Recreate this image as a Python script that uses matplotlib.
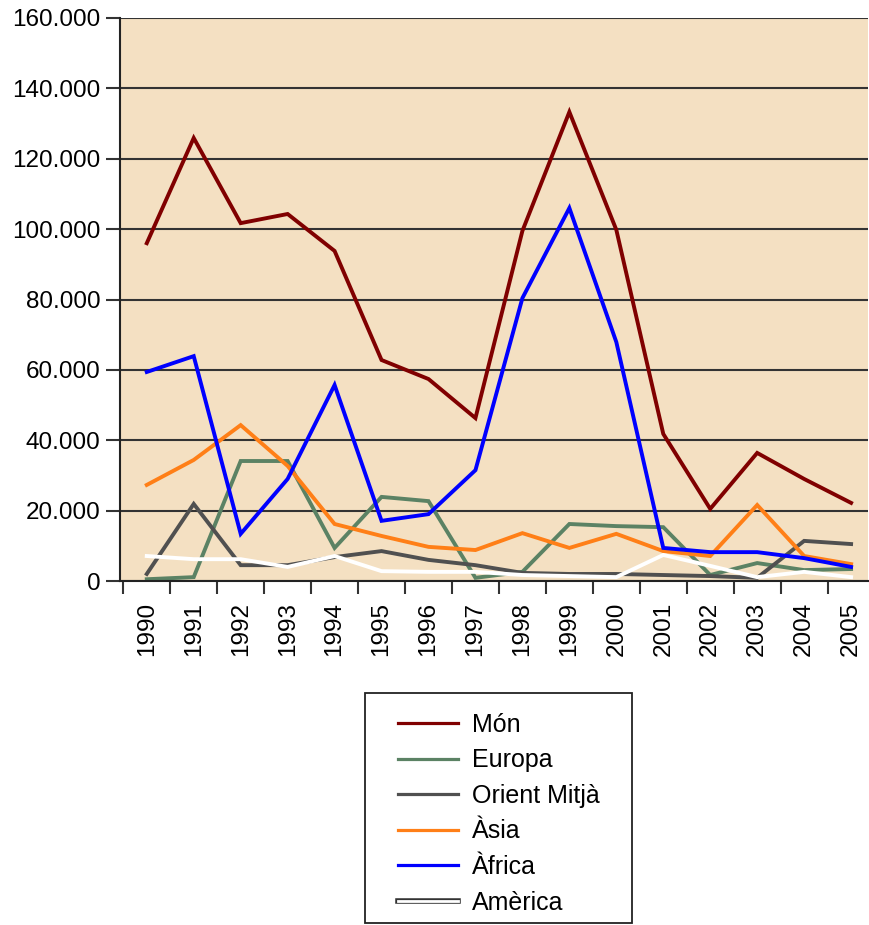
import matplotlib
matplotlib.use("Agg")
import matplotlib.pyplot as plt
from matplotlib.lines import Line2D
from matplotlib.patches import Rectangle
import matplotlib.patheffects as pe
from matplotlib.ticker import FuncFormatter, FixedLocator

plt.rcParams['font.family'] = ['Liberation Sans', 'DejaVu Sans']

years = ["1990", "1991", "1992", "1993", "1994", "1995", "1996", "1997",
         "1998", "1999", "2000", "2001", "2002", "2003", "2004", "2005"]

mon = [96000, 125900, 101700, 104300, 93800, 62800, 57400, 46300,
       99500, 133300, 99800, 41800, 20500, 36400, 29000, 22200]
europa = [500, 1100, 34100, 34100, 9400, 23900, 22700, 900,
          2600, 16200, 15600, 15300, 1700, 5100, 3100, 3400]
orient = [2000, 21900, 4500, 4500, 6800, 8500, 6000, 4500,
          2300, 2000, 2000, 1700, 1400, 900, 11400, 10500]
asia = [27300, 34400, 44300, 32700, 16200, 12800, 9700, 8800,
        13600, 9400, 13400, 8500, 7100, 21600, 7100, 4800]
africa = [59400, 63900, 13400, 29000, 55700, 17100, 19000, 31500,
          80400, 106000, 67900, 9400, 8200, 8200, 6500, 4000]
america = [7100, 6200, 6200, 4000, 7100, 2800, 2600, 2600,
           1700, 1400, 1100, 7400, 4300, 1100, 2600, 1100]

series = [("Món", mon, "#800000"),
          ("Europa", europa, "#5B8264"),
          ("Orient Mitjà", orient, "#505050"),
          ("Àsia", asia, "#FF7F17"),
          ("Àfrica", africa, "#0000FF"),
          ("Amèrica", america, "#FFFFFF")]

W, H = 869, 925
fig = plt.figure(figsize=(W/100, H/100), dpi=100)
ax = fig.add_axes([120/W, 1-581/H, (868-120)/W, (581-18)/H])
ax.set_facecolor("#F4E0C2")

x = list(range(len(years)))
for name, vals, col in series:
    ax.plot(x, vals, color=col, lw=2.8, solid_joinstyle='miter')

ax.set_xlim(-0.57, 15.36)
ax.set_ylim(0, 160000)
ax.set_yticks(range(0, 160001, 20000))
ax.yaxis.set_major_formatter(FuncFormatter(lambda v, p: f"{int(v):,}".replace(",", ".")))
ax.yaxis.grid(True, color="#333333", lw=1.5)
ax.set_axisbelow(True)

ax.set_xticks(x)
ax.set_xticklabels(years, rotation=90, fontsize=17.5)
ax.tick_params(axis='x', which='major', length=0, pad=15)
ax.xaxis.set_minor_locator(FixedLocator([i - 0.5 for i in range(len(years) + 1)]))
ax.tick_params(axis='x', which='minor', length=9, width=1.5, color="#333333")
ax.tick_params(axis='y', labelsize=17.5, length=10, width=1.5, color="#333333", pad=4)

for s in ['top', 'right']:
    ax.spines[s].set_visible(False)
for s in ['left', 'bottom']:
    ax.spines[s].set_color("#222222")
    ax.spines[s].set_linewidth(1.5)

# legend frame
fig.patches.append(Rectangle((365/W, 1-923/H), (632-365)/W, (923-693)/H,
                             transform=fig.transFigure, fill=False,
                             edgecolor="#222222", lw=1.3))

handles = []
for name, vals, col in series:
    if col == "#FFFFFF":
        h = Line2D([], [], color="white", lw=2.0,
                   path_effects=[pe.Stroke(linewidth=4.0, foreground="#333333"), pe.Normal()])
    else:
        h = Line2D([], [], color=col, lw=2.3)
    handles.append(h)

leg = fig.legend(handles, [s[0] for s in series], loc='upper left',
                 bbox_to_anchor=(398/W, 1-713/H), fontsize=18,
                 frameon=False, handlelength=2.4, labelspacing=0.46,
                 borderpad=0, handletextpad=0.55, borderaxespad=0)

fig.savefig("out.png", dpi=100, facecolor="white")
